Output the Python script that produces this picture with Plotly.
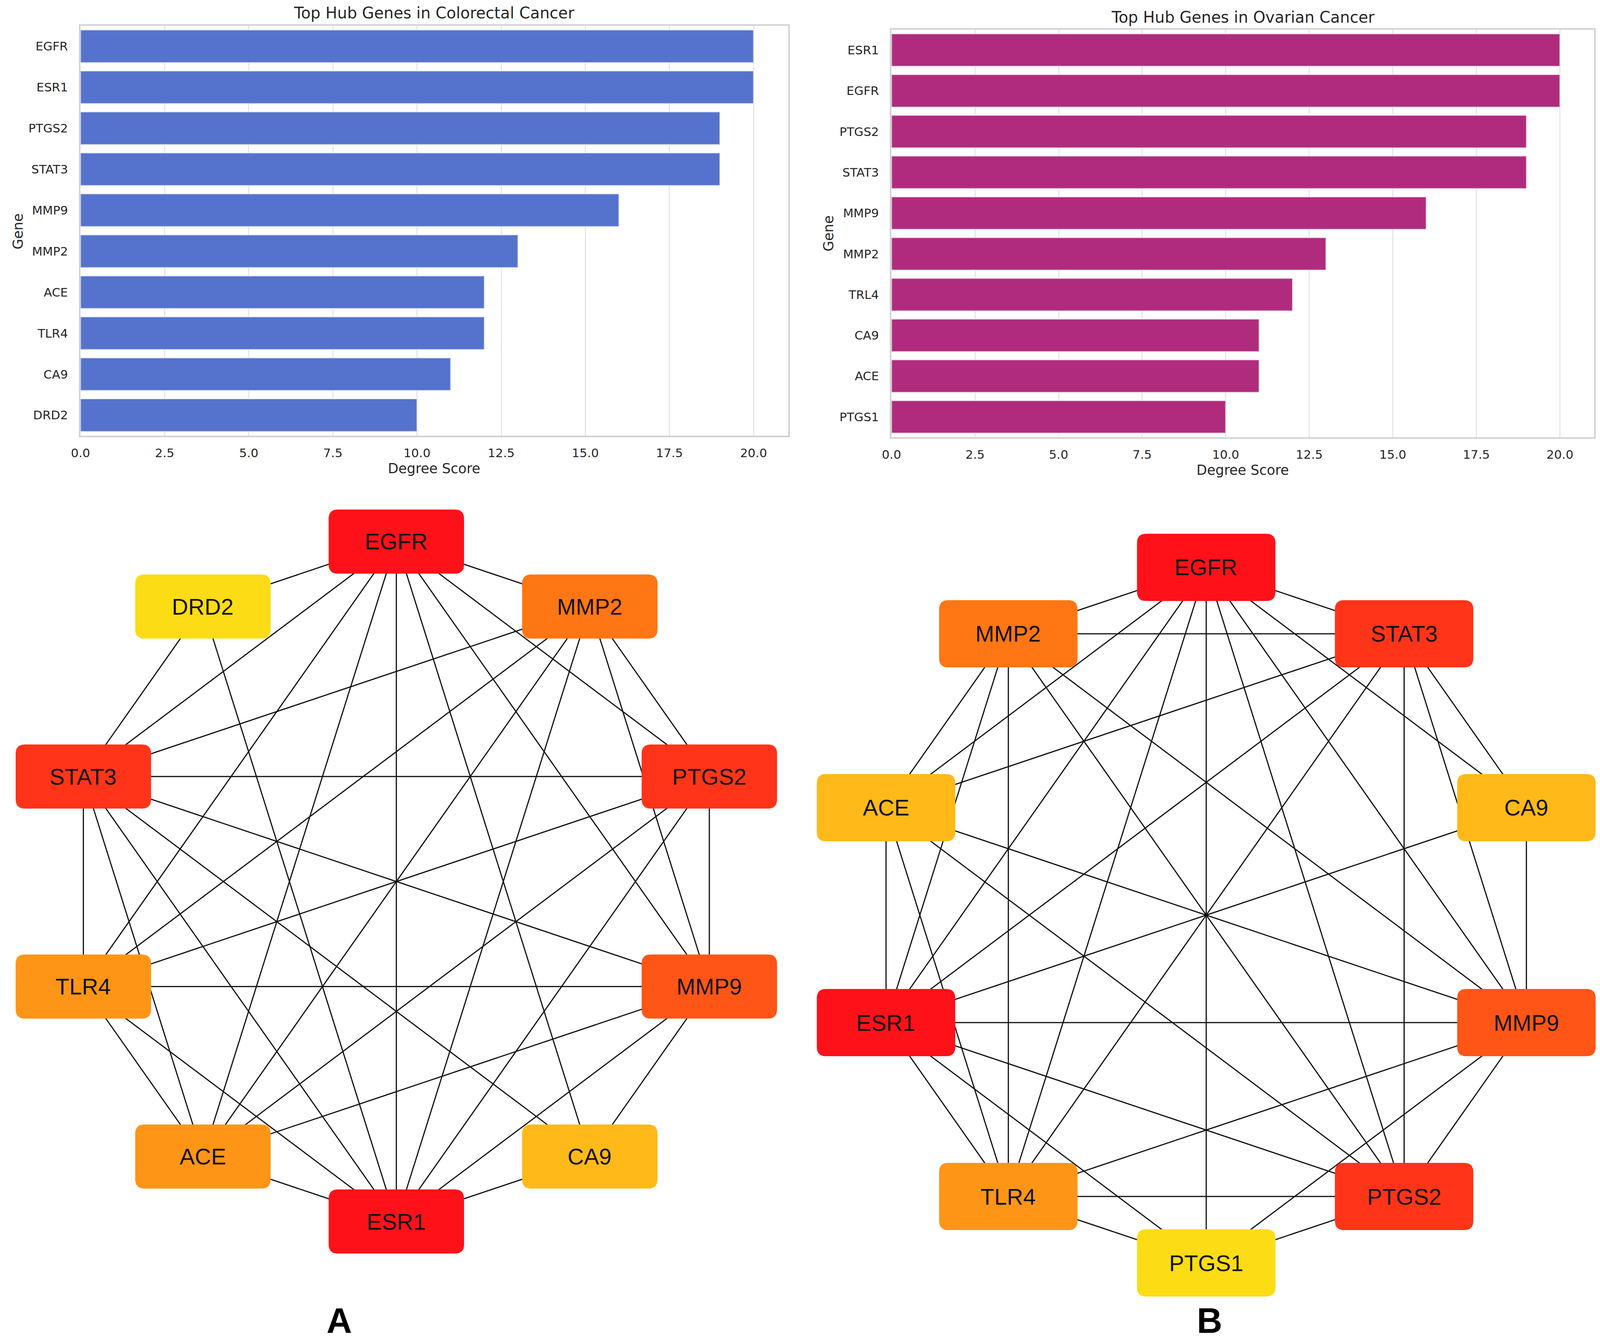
import math
import plotly.graph_objects as go

W, H = 4204, 3437

# ---------------- data ----------------
crc_genes = ["EGFR", "ESR1", "PTGS2", "STAT3", "MMP9", "MMP2", "ACE", "TLR4", "CA9", "DRD2"]
crc_scores = [20, 20, 19, 19, 16, 13, 12, 12, 11, 10]

ov_genes = ["ESR1", "EGFR", "PTGS2", "STAT3", "MMP9", "MMP2", "TRL4", "CA9", "ACE", "PTGS1"]
ov_scores = [20, 20, 19, 19, 16, 13, 12, 11, 11, 10]

x_ticks = [0, 2.5, 5, 7.5, 10, 12.5, 15, 17.5, 20]

# network A (circle order, clockwise from top)
net_a_nodes = ["EGFR", "MMP2", "PTGS2", "MMP9", "CA9", "ESR1", "ACE", "TLR4", "STAT3", "DRD2"]
net_a_edges = [
    ("EGFR", "DRD2"), ("EGFR", "MMP2"), ("EGFR", "STAT3"), ("EGFR", "TLR4"), ("EGFR", "ACE"),
    ("EGFR", "ESR1"), ("EGFR", "CA9"), ("EGFR", "MMP9"), ("EGFR", "PTGS2"),
    ("DRD2", "STAT3"), ("DRD2", "ESR1"),
    ("MMP2", "STAT3"), ("MMP2", "TLR4"), ("MMP2", "ACE"), ("MMP2", "ESR1"), ("MMP2", "MMP9"), ("MMP2", "PTGS2"),
    ("STAT3", "PTGS2"), ("STAT3", "MMP9"), ("STAT3", "CA9"), ("STAT3", "ESR1"), ("STAT3", "ACE"), ("STAT3", "TLR4"),
    ("PTGS2", "TLR4"), ("PTGS2", "ACE"), ("PTGS2", "ESR1"), ("PTGS2", "MMP9"),
    ("MMP9", "TLR4"), ("MMP9", "ACE"), ("MMP9", "ESR1"), ("MMP9", "CA9"),
    ("TLR4", "ACE"), ("TLR4", "ESR1"),
    ("ACE", "ESR1"),
    ("CA9", "ESR1"),
]
net_a_colors = {
    "EGFR": "#FF1119", "ESR1": "#FF1119", "STAT3": "#FF3418", "PTGS2": "#FF3418",
    "MMP9": "#FF5516", "MMP2": "#FF7614", "TLR4": "#FF9516", "ACE": "#FF9516",
    "CA9": "#FFB918", "DRD2": "#FCDC14",
}

# network B
net_b_nodes = ["EGFR", "STAT3", "CA9", "MMP9", "PTGS2", "PTGS1", "TLR4", "ESR1", "ACE", "MMP2"]
net_b_edges = [
    ("EGFR", "MMP2"), ("EGFR", "STAT3"), ("EGFR", "ACE"), ("EGFR", "ESR1"), ("EGFR", "TLR4"),
    ("EGFR", "PTGS1"), ("EGFR", "PTGS2"), ("EGFR", "MMP9"), ("EGFR", "CA9"),
    ("MMP2", "STAT3"), ("MMP2", "ACE"), ("MMP2", "ESR1"), ("MMP2", "TLR4"), ("MMP2", "PTGS2"), ("MMP2", "MMP9"),
    ("STAT3", "ACE"), ("STAT3", "ESR1"), ("STAT3", "TLR4"), ("STAT3", "PTGS2"), ("STAT3", "MMP9"), ("STAT3", "CA9"),
    ("CA9", "ESR1"), ("CA9", "MMP9"),
    ("ACE", "MMP9"), ("ACE", "ESR1"), ("ACE", "TLR4"), ("ACE", "PTGS2"),
    ("ESR1", "MMP9"), ("ESR1", "PTGS2"), ("ESR1", "PTGS1"), ("ESR1", "TLR4"),
    ("MMP9", "TLR4"), ("MMP9", "PTGS1"), ("MMP9", "PTGS2"),
    ("PTGS2", "TLR4"), ("PTGS2", "PTGS1"),
    ("TLR4", "PTGS1"),
]
net_b_colors = {
    "EGFR": "#FF1119", "ESR1": "#FF1119", "STAT3": "#FF3418", "PTGS2": "#FF3418",
    "MMP9": "#FF5516", "MMP2": "#FF7614", "TLR4": "#FF9516", "ACE": "#FFB918",
    "CA9": "#FFB918", "PTGS1": "#FCDC14",
}

panel_labels = ["A", "B"]

# ---------------- helpers ----------------
def px(x):
    return x / W


def py(y):
    return 1 - y / H


def circle_layout(nodes, cx, cy, r):
    pos = {}
    n = len(nodes)
    for i, name in enumerate(nodes):
        a = 2 * math.pi * i / n
        pos[name] = (cx + r * math.sin(a), cy - r * math.cos(a))
    return pos


def rrect_path(cx, cy, hw, hh, r):
    x0, x1 = cx - hw, cx + hw
    y0, y1 = cy - hh, cy + hh
    return (f"M {x0 + r},{y0} L {x1 - r},{y0} Q {x1},{y0} {x1},{y0 + r} "
            f"L {x1},{y1 - r} Q {x1},{y1} {x1 - r},{y1} L {x0 + r},{y1} "
            f"Q {x0},{y1} {x0},{y1 - r} L {x0},{y0 + r} Q {x0},{y0} {x0 + r},{y0} Z")


fig = go.Figure()

TXT = "#262626"
FONT = "DejaVu Sans"
GRID = "#e6e6e6"
FRAME = "#d2d2d2"

# ---------------- bar charts ----------------
fig.add_trace(go.Bar(x=crc_scores, y=crc_genes, orientation="h", width=0.8,
                     marker=dict(color="#5573CC", line=dict(color="rgba(255,255,255,0.55)", width=3)),
                     xaxis="x", yaxis="y", showlegend=False))
fig.add_trace(go.Bar(x=ov_scores, y=ov_genes, orientation="h", width=0.8,
                     marker=dict(color="#B02B7D", line=dict(color="rgba(255,255,255,0.55)", width=3)),
                     xaxis="x2", yaxis="y2", showlegend=False))

bar_x_common = dict(range=[0, 21.03], tickvals=x_ticks, tickformat=".1f", showgrid=True,
                    gridcolor=GRID, gridwidth=3, zeroline=False, showline=True, linecolor=FRAME,
                    linewidth=4, mirror=True, ticks="", ticklabelstandoff=14,
                    tickfont=dict(family=FONT, size=31, color=TXT))
bar_y_common = dict(type="category", showgrid=False, zeroline=False, showline=True, linecolor=FRAME,
                    linewidth=4, mirror=True, ticks="", ticklabelstandoff=22, range=[9.5, -0.5],
                    tickfont=dict(family=FONT, size=31, color=TXT))

fig.update_layout(
    xaxis=dict(domain=[px(187), px(2058)], anchor="y", **bar_x_common),
    yaxis=dict(domain=[py(1115), py(66)], anchor="x", categoryarray=crc_genes, **bar_y_common),
    xaxis2=dict(domain=[px(2331), px(4189)], anchor="y2", **bar_x_common),
    yaxis2=dict(domain=[py(1119), py(76)], anchor="x2", categoryarray=ov_genes, **bar_y_common),
)

annotations = []
for (cxp, ttl, ty, gx, gy, dy) in [
    ((187 + 2058) / 2, "Top Hub Genes in Colorectal Cancer", 33, 22, 592, 1199),
    ((2331 + 4189) / 2, "Top Hub Genes in Ovarian Cancer", 44, 2164, 598, 1203),
]:
    annotations.append(dict(x=px(cxp), y=py(ty), xref="paper", yref="paper", text=ttl,
                            showarrow=False, font=dict(family=FONT, size=40, color=TXT),
                            xanchor="center", yanchor="middle"))
    annotations.append(dict(x=px(cxp), y=py(dy), xref="paper", yref="paper", text="Degree Score",
                            showarrow=False, font=dict(family=FONT, size=35, color=TXT),
                            xanchor="center", yanchor="middle"))
    annotations.append(dict(x=px(gx), y=py(gy), xref="paper", yref="paper", text="Gene",
                            showarrow=False, textangle=-90, font=dict(family=FONT, size=35, color=TXT),
                            xanchor="center", yanchor="middle"))

# ---------------- networks ----------------
NET_TOP = 1240
fig.update_layout(
    xaxis3=dict(domain=[0, 1], range=[0, W], visible=False, anchor="y3"),
    yaxis3=dict(domain=[0, py(NET_TOP)], range=[H, NET_TOP], visible=False, anchor="x3"),
)

shapes = []
networks = [
    (net_a_nodes, net_a_edges, net_a_colors, 1022, 2256, 870, 179, 82),
    (net_b_nodes, net_b_edges, net_b_colors, 3163, 2342, 890, 183, 86),
]
for nodes, edges, colors, cx, cy, r, hw, hh in networks:
    pos = circle_layout(nodes, cx, cy, r)
    ex, ey = [], []
    for a, b in edges:
        ex += [pos[a][0], pos[b][0], None]
        ey += [pos[a][1], pos[b][1], None]
    fig.add_trace(go.Scatter(x=ex, y=ey, mode="lines", line=dict(color="#111111", width=3),
                             xaxis="x3", yaxis="y3", hoverinfo="skip", showlegend=False))
    for name in nodes:
        x, y = pos[name]
        shapes.append(dict(type="path", path=rrect_path(x, y, hw, hh, 24), xref="x3", yref="y3",
                           fillcolor=colors[name], line=dict(width=0), layer="above"))
        annotations.append(dict(x=x, y=y, xref="x3", yref="y3", text=name, showarrow=False,
                                font=dict(family="Liberation Sans", size=58, color="#111111"),
                                xanchor="center", yanchor="middle"))

for lbl, lx in zip(panel_labels, [871, 3172]):
    annotations.append(dict(x=px(lx), y=py(3432), xref="paper", yref="paper",
                            text=f"<b>{lbl}</b>", showarrow=False,
                            font=dict(family="Liberation Sans", size=90, color="#000000"),
                            xanchor="center", yanchor="bottom"))

fig.update_layout(
    width=W, height=H, margin=dict(l=0, r=0, t=0, b=0),
    paper_bgcolor="white", plot_bgcolor="white",
    shapes=shapes, annotations=annotations, bargap=0.2,
)

post = (
    "document.body.style.margin='0px';"
    "document.body.style.overflow='hidden';"
    "var gd=document.getElementById('{plot_id}');"
    "Plotly.relayout(gd,{width:window.innerWidth,height:window.innerHeight});"
)

fig.write_html("out.html", post_script=post, config={"displayModeBar": False})
